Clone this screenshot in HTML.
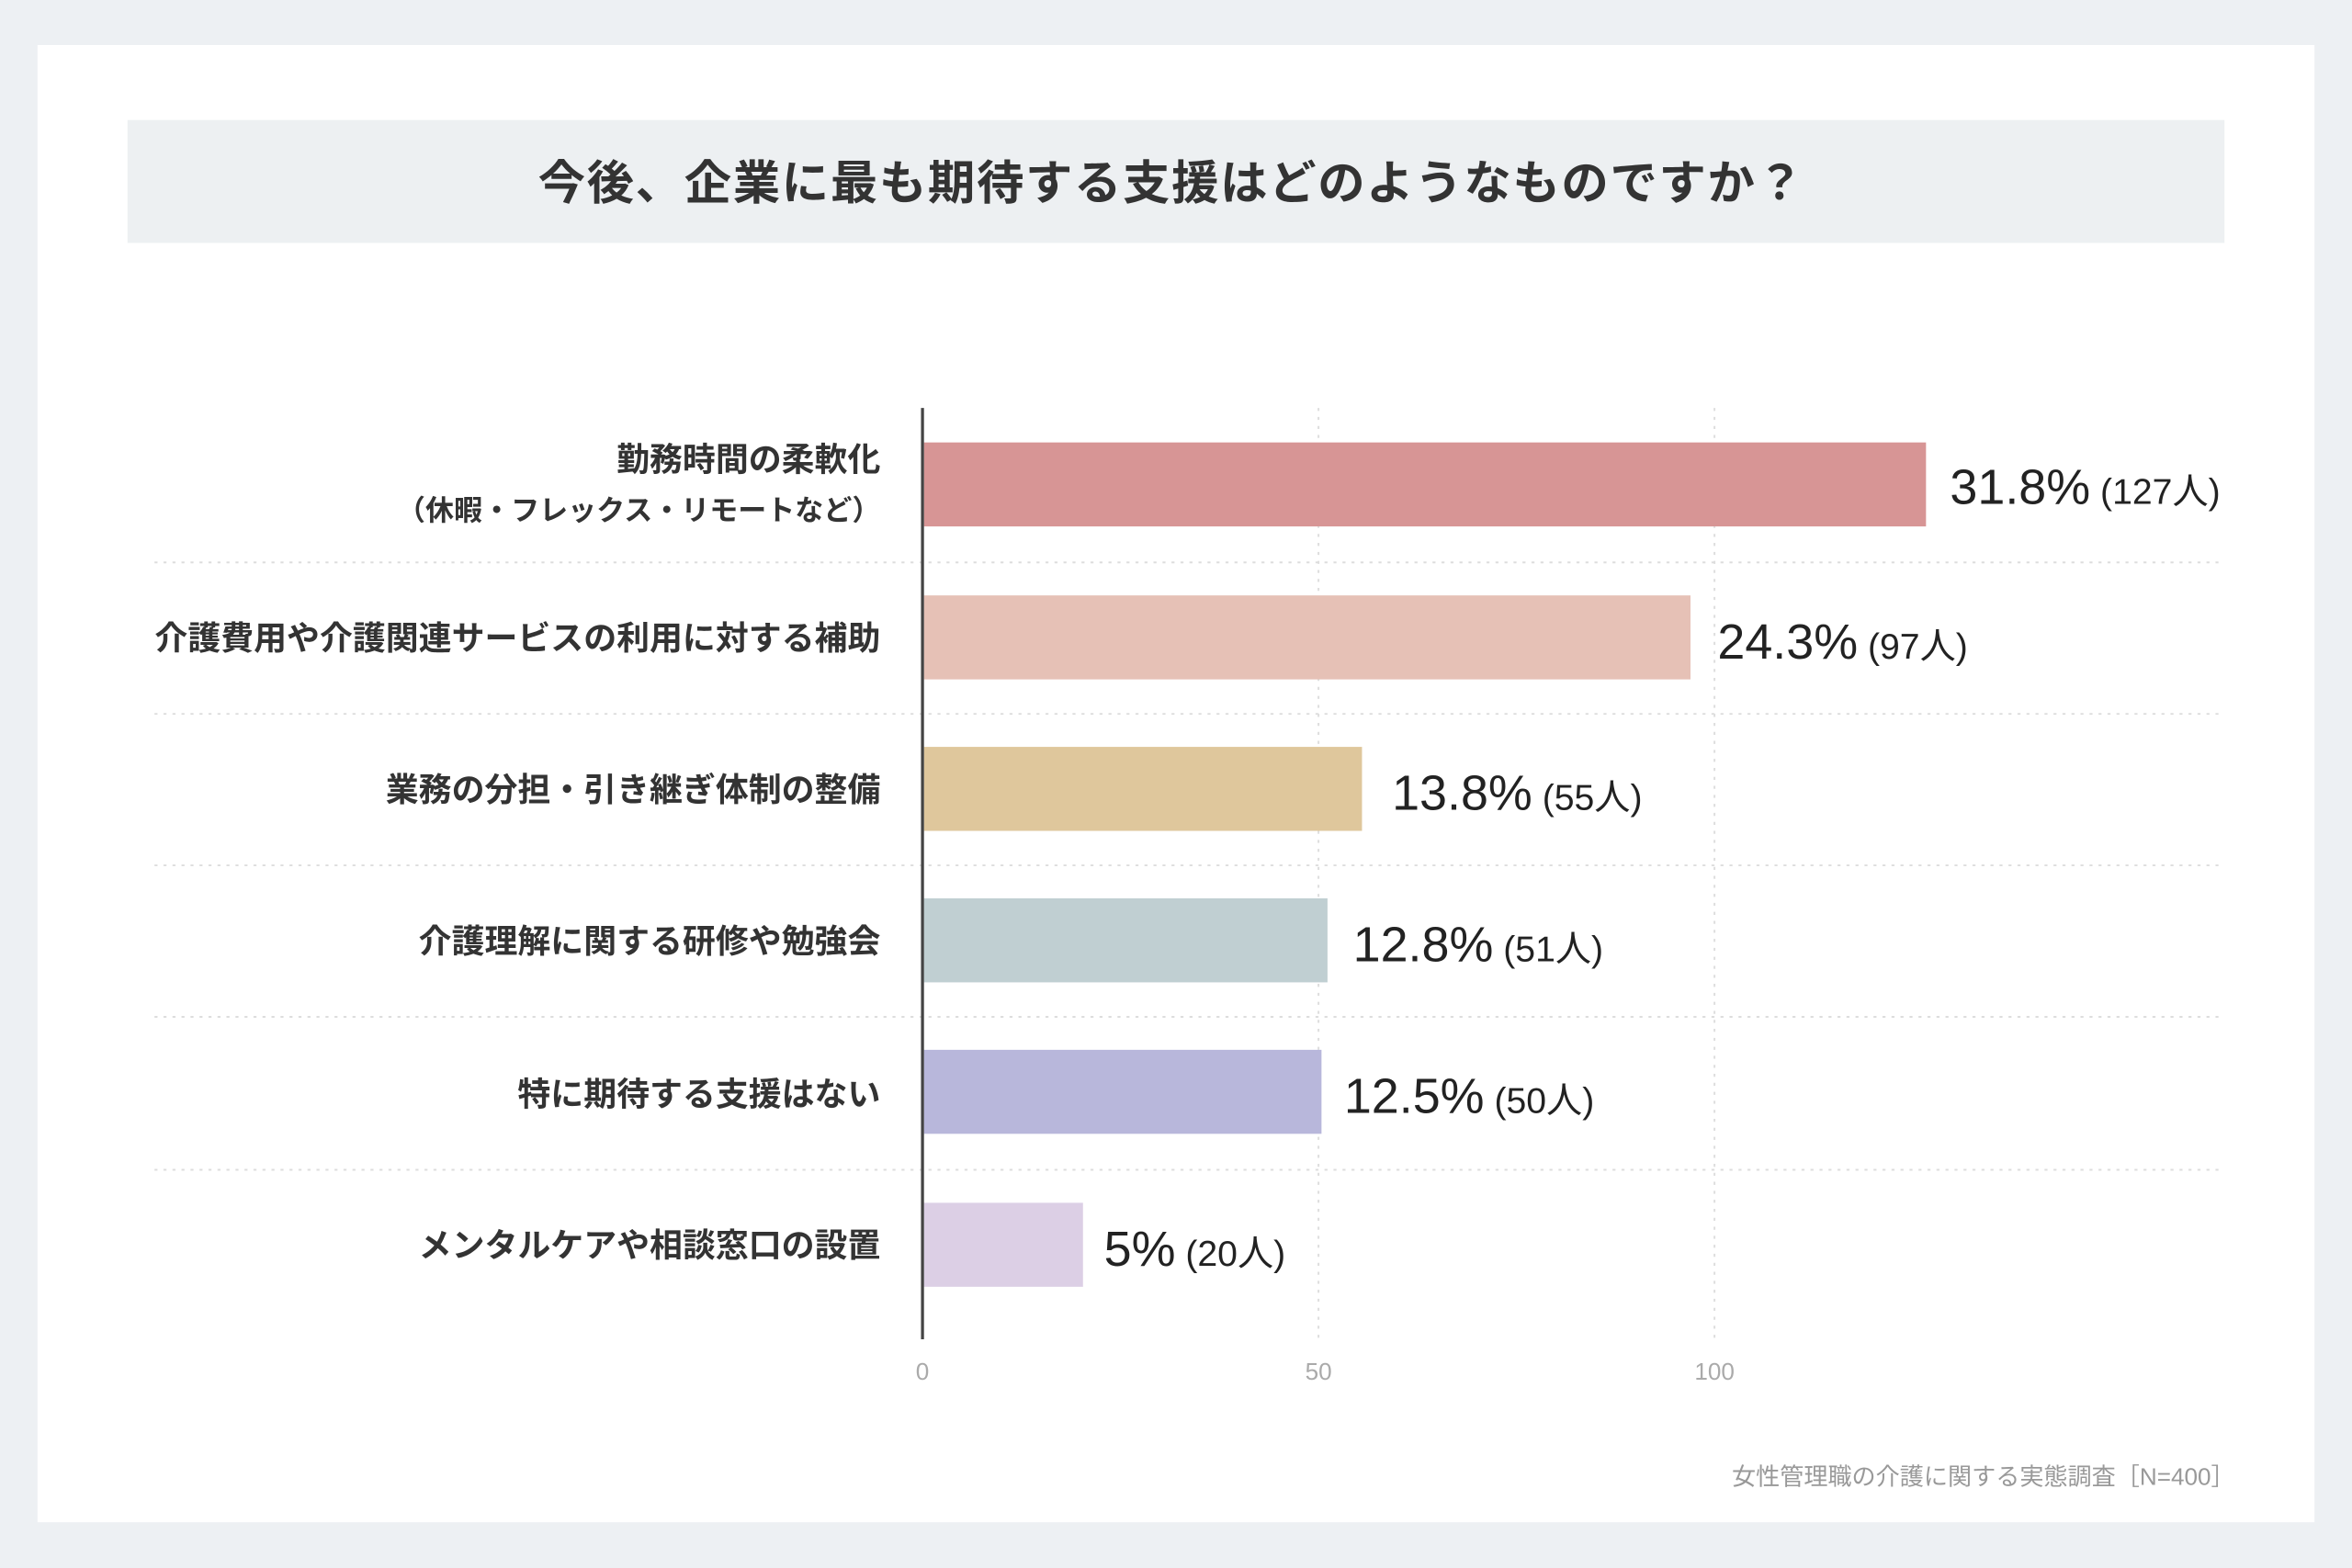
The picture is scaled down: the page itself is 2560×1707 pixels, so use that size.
<!DOCTYPE html>
<html><head><meta charset="utf-8"><style>
html,body{margin:0;padding:0;background:#edf0f3;}
svg{display:block}
text{font-family:"Liberation Sans","Noto Sans CJK JP",sans-serif;}
.lab{font-size:22px;font-weight:bold;fill:#333;text-anchor:end}
.big{font-family:"Liberation Sans Narrow","Liberation Sans","Noto Sans CJK JP",sans-serif;font-size:33px;fill:#222;}
.sm{font-size:24px;}
.tick{font-size:16px;fill:#aaa;text-anchor:middle}
</style></head><body>
<svg width="2560" height="1707" viewBox="0 0 1568 1045.5" xmlns="http://www.w3.org/2000/svg">
<rect x="0" y="0" width="1568" height="1046" fill="#edf0f3"/>
<rect x="25" y="30" width="1518" height="985" fill="#fff"/>
<rect x="85" y="80" width="1398" height="82" fill="#edf0f2"/>
<text x="781" y="133" text-anchor="middle" style="font-size:31.5px;font-weight:bold;fill:#333;letter-spacing:1px">今後、企業に最も期待する支援はどのようなものですか？</text>
<g stroke="#ddd" stroke-width="1.2" stroke-dasharray="2,4">
<line x1="879" y1="272" x2="879" y2="893"/>
<line x1="1143" y1="272" x2="1143" y2="893"/>
<line x1="103" y1="375" x2="1483" y2="375"/>
<line x1="103" y1="476" x2="1483" y2="476"/>
<line x1="103" y1="577" x2="1483" y2="577"/>
<line x1="103" y1="678" x2="1483" y2="678"/>
<line x1="103" y1="780" x2="1483" y2="780"/>
</g>
<rect x="616" y="295" width="668" height="56" fill="#d79595"/>
<rect x="616" y="397" width="511" height="56" fill="#e6c1b6"/>
<rect x="616" y="498" width="292" height="56" fill="#dfc79c"/>
<rect x="616" y="599" width="269" height="56" fill="#c0cfd2"/>
<rect x="616" y="700" width="265" height="56" fill="#b8b7db"/>
<rect x="616" y="802" width="106" height="56" fill="#dccfe5"/>
<line x1="615" y1="272" x2="615" y2="893" stroke="#444" stroke-width="2"/>
<text class="lab" x="587" y="314">勤務時間の柔軟化</text>
<text class="lab" x="587" y="347" style="font-size:19px">（休暇・フレックス・リモートなど）</text>
<text class="lab" x="587" y="433">介護費用や介護関連サービスの利用に対する補助</text>
<text class="lab" x="587" y="534">業務の分担・引き継ぎ体制の整備</text>
<text class="lab" x="587" y="635">介護理解に関する研修や勉強会</text>
<text class="lab" x="587" y="737">特に期待する支援はない</text>
<text class="lab" x="587" y="838">メンタルケアや相談窓口の設置</text>
<text class="big" x="1300" y="336">31.8%<tspan class="sm"> (127人)</tspan></text>
<text class="big" x="1145" y="439">24.3%<tspan class="sm"> (97人)</tspan></text>
<text class="big" x="928" y="540">13.8%<tspan class="sm"> (55人)</tspan></text>
<text class="big" x="902" y="641">12.8%<tspan class="sm"> (51人)</tspan></text>
<text class="big" x="896" y="742">12.5%<tspan class="sm"> (50人)</tspan></text>
<text class="big" x="736" y="844">5%<tspan class="sm"> (20人)</tspan></text>
<text class="tick" x="615" y="920">0</text>
<text class="tick" x="879" y="920">50</text>
<text class="tick" x="1143" y="920">100</text>
<text x="1490" y="990" text-anchor="end" style="font-size:16px;fill:#999">女性管理職の介護に関する実態調査［N=400］</text>
</svg>
</body></html>
